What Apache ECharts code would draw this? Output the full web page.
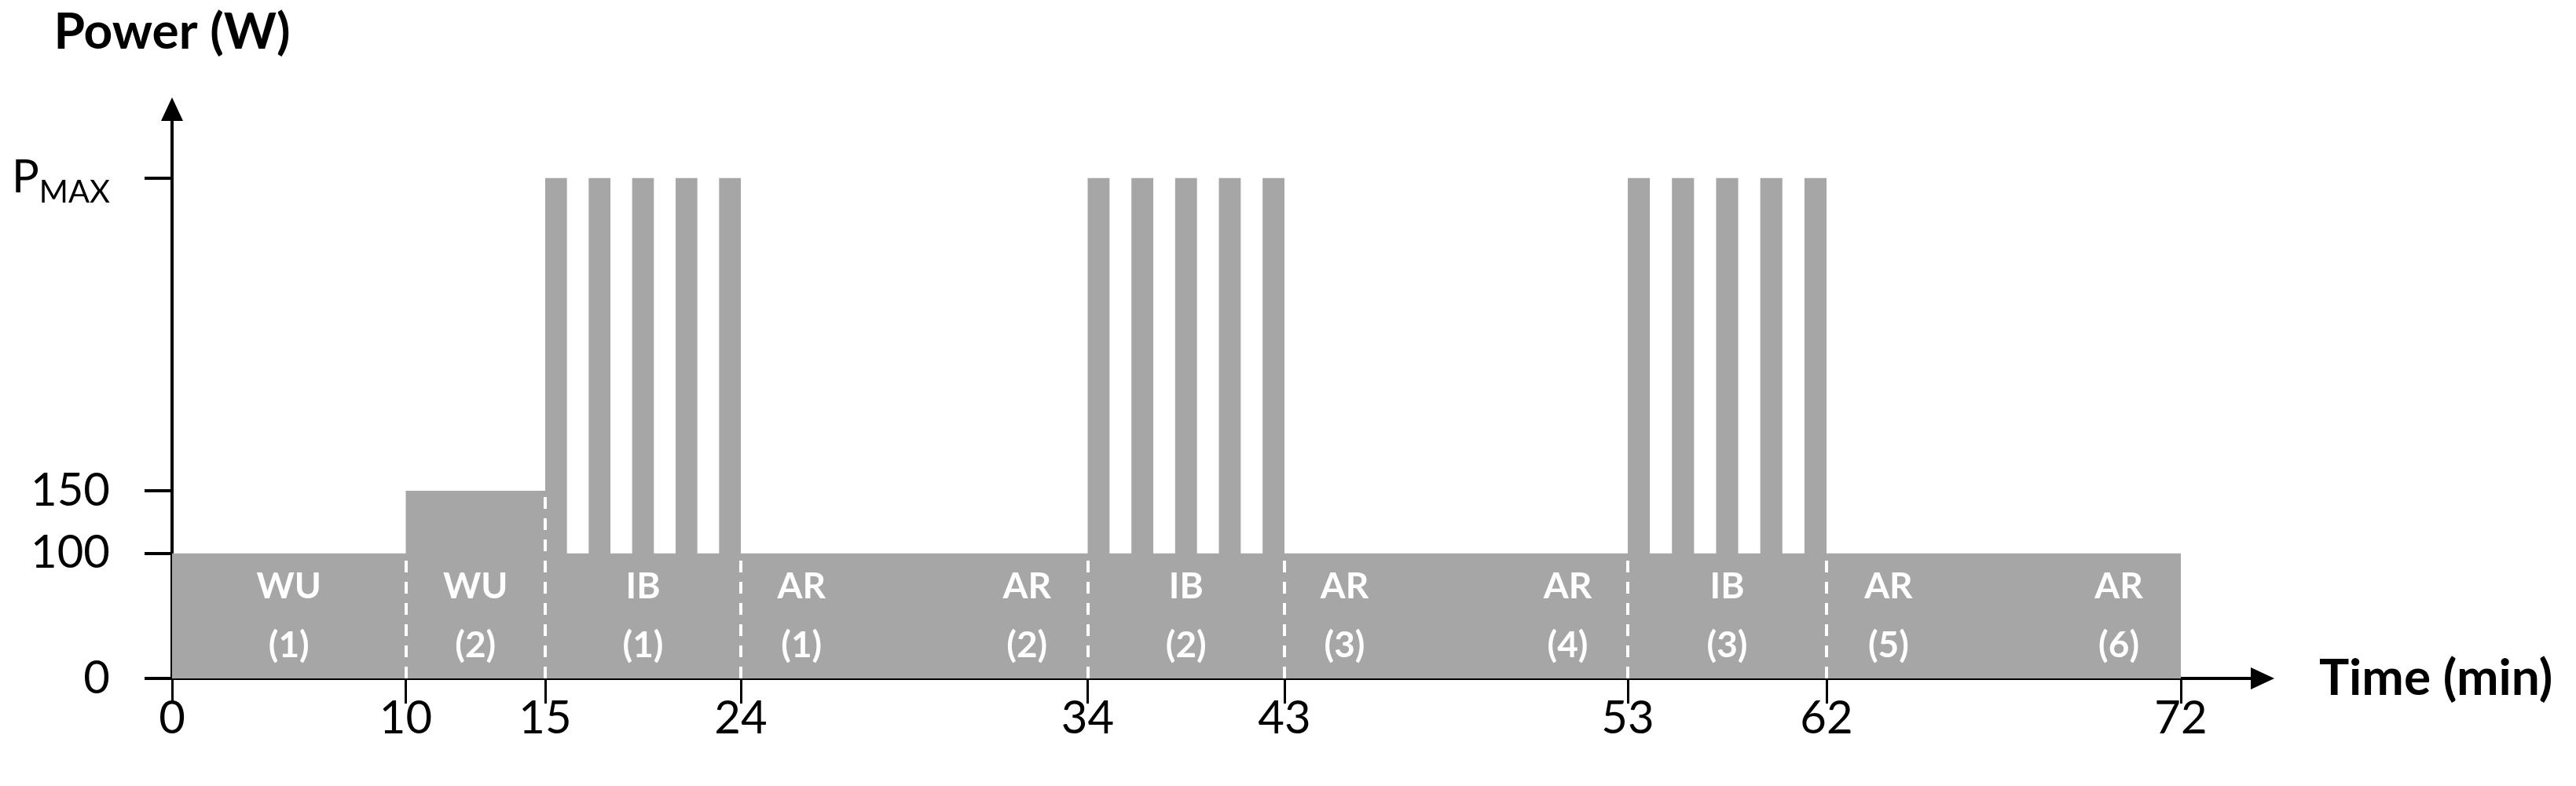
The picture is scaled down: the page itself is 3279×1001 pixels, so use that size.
<!DOCTYPE html>
<html>
<head>
<meta charset="utf-8">
<title>Power profile</title>
<script src="https://cdn.jsdelivr.net/npm/echarts@6/dist/echarts.min.js"></script>
<style>
html, body {margin:0; padding:0; background:#fff;}
#chart {width:3279px; height:1001px;}
</style>
</head>
<body>
<div id="chart"></div>
<script>
// phase boundaries (min) and base power of each phase (W)
var boundaries = [0, 10, 15, 24, 34, 43, 53, 62, 72];
var phaseBase = [100, 150, 100, 100, 100, 100, 100, 100];
// 1 min sprints at P_MAX in the three interval blocks
var sprintStart = [15, 17, 19, 21, 23, 34, 36, 38, 40, 42, 53, 55, 57, 59, 61];
var sprintLen = 1;
var pMax = 400;
var yTicks = [0, 100, 150, pMax];
var phaseNames = ['WU\n(1)', 'WU\n(2)', 'IB\n(1)', 'AR\n(1)', 'AR\n(2)', 'IB\n(2)', 'AR\n(3)', 'AR\n(4)', 'IB\n(3)', 'AR\n(5)', 'AR\n(6)'];
var phaseNameAt = [5, 12.5, 19.5, 25.75, 32.25, 38.5, 44.75, 51.25, 57.5, 63.75, 70.25];

// time axis is a schematic: every phase has its own drawn width
var segWidth = [297.5, 177.5, 249, 441.5, 250.5, 437, 253, 451];
var segStart = [0];
for (var i = 0; i < segWidth.length; i++) {
    segStart.push(segStart[i] + segWidth[i]);
}

function warp(t) {
    for (var i = 0; i < segWidth.length; i++) {
        if (t <= boundaries[i + 1] || i == segWidth.length - 1) {
            return segStart[i] + (t - boundaries[i]) / (boundaries[i + 1] - boundaries[i]) * segWidth[i];
        }
    }
}

function powerAt(t) {
    for (var k = 0; k < sprintStart.length; k++) {
        if (t >= sprintStart[k] && t < sprintStart[k] + sprintLen) return pMax;
    }
    for (var i = 0; i < phaseBase.length; i++) {
        if (t < boundaries[i + 1]) return phaseBase[i];
    }
    return 0;
}

// step profile -> polygon vertices
var cuts = boundaries.slice();
sprintStart.forEach(function (s) { cuts.push(s); cuts.push(s + sprintLen); });
cuts.sort(function (a, b) { return a - b; });
cuts = cuts.filter(function (c, i) { return i == 0 || c != cuts[i - 1]; });
var profile = [];
for (var i = 0; i < cuts.length - 1; i++) {
    var p = powerAt(cuts[i]);
    profile.push([warp(cuts[i]), p]);
    profile.push([warp(cuts[i + 1]), p]);
}

// white dashed phase separators (up to the lower neighbour)
var dividers = [];
for (var i = 1; i < boundaries.length - 1; i++) {
    var bt = boundaries[i];
    var divTop = Math.min(powerAt(bt - 0.5), powerAt(bt));
    dividers.push([{coord: [warp(bt), 0]}, {coord: [warp(bt), divTop]}]);
}

// phase names sit half way up the base level
var labelData = phaseNameAt.map(function (t) {
    return [warp(t), phaseBase[0] / 2];
});

var xLabelMap = {};
var xTickVals = boundaries.map(function (b) {
    var v = warp(b);
    xLabelMap[v.toFixed(1)] = b;
    return v;
});

var myChart = echarts.init(document.getElementById('chart'));
var option = {
    animation: false,
    grid: {left: 219, right: 399, top: 139, bottom: 137},
    xAxis: {
        type: 'value',
        min: 0,
        max: 2661,
        name: 'Time (min)',
        nameLocation: 'end',
        nameGap: 72,
        nameTextStyle: {fontSize: 64, fontWeight: 'bold', color: '#000', fontFamily: 'Lato'},
        splitLine: {show: false},
        axisLine: {
            lineStyle: {color: '#000', width: 4},
            symbol: ['none', 'triangle'],
            symbolSize: [28, 30]
        },
        axisTick: {customValues: xTickVals, length: 32, lineStyle: {color: '#000', width: 3}},
        axisLabel: {
            customValues: xTickVals,
            margin: 22,
            fontSize: 58,
            fontFamily: 'Lato',
            color: '#000',
            formatter: function (v) { return String(xLabelMap[v.toFixed(1)]); }
        }
    },
    yAxis: {
        type: 'value',
        min: 0,
        max: 455,
        name: 'Power (W)',
        nameLocation: 'end',
        nameGap: 66,
        nameTextStyle: {fontSize: 64, fontWeight: 'bold', color: '#000', fontFamily: 'Lato'},
        splitLine: {show: false},
        axisLine: {
            lineStyle: {color: '#000', width: 4},
            symbol: ['none', 'triangle'],
            symbolSize: [28, 30]
        },
        axisTick: {customValues: yTicks, length: 35, lineStyle: {color: '#000', width: 4}},
        axisLabel: {
            customValues: yTicks,
            margin: 79,
            fontSize: 58,
            fontFamily: 'Lato',
            color: '#000',
            formatter: function (v) {
                if (v == pMax) return '{p|P}{s|MAX}';
                return String(v);
            },
            rich: {
                p: {fontSize: 58, lineHeight: 76, color: '#000', fontFamily: 'Lato'},
                s: {fontSize: 40, lineHeight: 40, verticalAlign: 'bottom', color: '#000', fontFamily: 'Lato'}
            }
        }
    },
    series: [
        {
            type: 'line',
            data: profile,
            showSymbol: false,
            silent: true,
            lineStyle: {width: 0},
            areaStyle: {color: '#a6a6a6', opacity: 1},
            markLine: {
                silent: true,
                symbol: ['none', 'none'],
                label: {show: false},
                lineStyle: {color: '#fff', width: 4, type: [15, 12]},
                data: dividers
            }
        },
        {
            type: 'custom',
            data: labelData,
            silent: true,
            z: 10,
            encode: {x: 0, y: 1},
            renderItem: function (params, api) {
                var pt = api.coord([api.value(0), api.value(1)]);
                return {
                    type: 'text',
                    x: pt[0],
                    y: pt[1],
                    style: {
                        text: phaseNames[params.dataIndex],
                        fill: '#fff',
                        fontSize: 46,
                        fontWeight: 'bold',
                        fontFamily: 'Lato',
                        lineHeight: 75,
                        align: 'center',
                        verticalAlign: 'middle'
                    }
                };
            }
        }
    ]
};
myChart.setOption(option);
</script>
</body>
</html>
